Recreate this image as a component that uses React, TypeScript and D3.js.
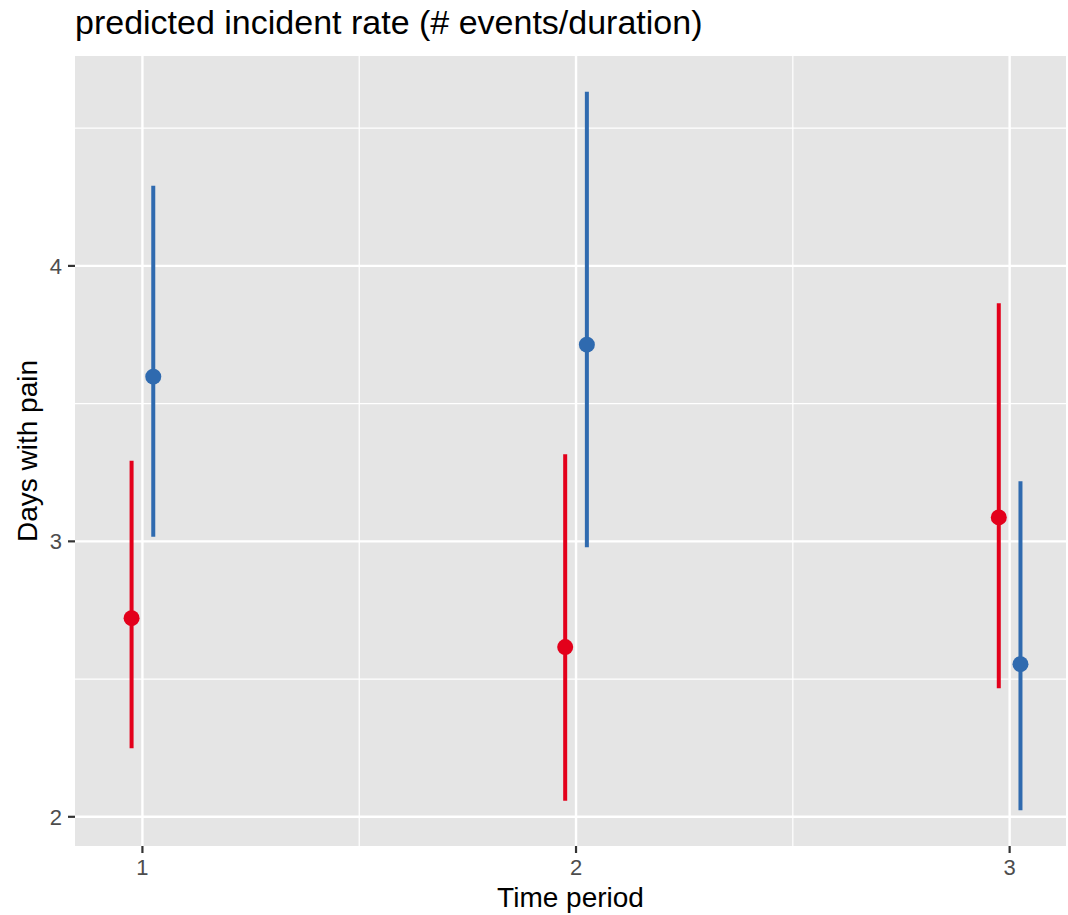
import * as d3 from "d3";

const periods = [1, 2, 3];
const groups = ["a", "b"];
const groupColors = ["#E3001B", "#2F6AAF"];
const redEst = [2.721, 2.616, 3.087];
const redLow = [2.249, 2.058, 2.467];
const redHigh = [3.293, 3.316, 3.864];
const blueEst = [3.598, 3.714, 2.554];
const blueLow = [3.017, 2.979, 2.024];
const blueHigh = [4.291, 4.632, 3.218];
const yTicks = [2, 3, 4];
const yMinor = [2.5, 3.5, 4.5];
const xMinor = [1.5, 2.5];

const W = 1068;
const H = 915;
const panel = { left: 75, right: 1066, top: 56, bottom: 846 };
const DODGE = 0.025;
const FONT = "'Liberation Sans', Arial, Helvetica, sans-serif";

const rows = [
  ...periods.map((p, i) => ({ g: 0, period: p, est: redEst[i], lo: redLow[i], hi: redHigh[i] })),
  ...periods.map((p, i) => ({ g: 1, period: p, est: blueEst[i], lo: blueLow[i], hi: blueHigh[i] })),
];

export default function App() {
  const x = d3.scaleLinear().domain([0.8445, 3.13]).range([panel.left, panel.right]);
  const y = d3.scaleLinear().domain([1.894, 4.762]).range([panel.bottom, panel.top]);
  const off = (g: number) => (g === 0 ? -DODGE : DODGE);

  return (
    <svg
      width={W}
      height={H}
      style={{ display: "block", position: "absolute", left: 0, top: 0 }}
      fontFamily={FONT}
    >
      <rect x={0} y={0} width={W} height={H} fill="#fff" />
      <text x={75} y={34} fontSize={34} fill="#000">
        predicted incident rate (# events/duration)
      </text>

      <rect
        x={panel.left}
        y={panel.top}
        width={panel.right - panel.left}
        height={panel.bottom - panel.top}
        fill="#E5E5E5"
      />
      {yMinor.map((v) => (
        <line key={"ym" + v} x1={panel.left} x2={panel.right} y1={y(v)} y2={y(v)} stroke="#fff" strokeWidth={1.2} />
      ))}
      {xMinor.map((v) => (
        <line key={"xm" + v} y1={panel.top} y2={panel.bottom} x1={x(v)} x2={x(v)} stroke="#fff" strokeWidth={1.2} />
      ))}
      {yTicks.map((v) => (
        <line key={"y" + v} x1={panel.left} x2={panel.right} y1={y(v)} y2={y(v)} stroke="#fff" strokeWidth={2.4} />
      ))}
      {periods.map((v) => (
        <line key={"x" + v} y1={panel.top} y2={panel.bottom} x1={x(v)} x2={x(v)} stroke="#fff" strokeWidth={2.4} />
      ))}

      {rows.map((r, i) => (
        <g key={i}>
          <line
            x1={x(r.period + off(r.g))}
            x2={x(r.period + off(r.g))}
            y1={y(r.lo)}
            y2={y(r.hi)}
            stroke={groupColors[r.g]}
            strokeWidth={4}
          />
          <circle cx={x(r.period + off(r.g))} cy={y(r.est)} r={8} fill={groupColors[r.g]} />
        </g>
      ))}

      {yTicks.map((v) => (
        <g key={"yt" + v}>
          <line x1={68} x2={panel.left} y1={y(v)} y2={y(v)} stroke="#333" strokeWidth={2.2} />
          <text x={62} y={y(v)} dy="0.36em" textAnchor="end" fontSize={22} fill="#4D4D4D">
            {v}
          </text>
        </g>
      ))}
      {periods.map((v) => (
        <g key={"xt" + v}>
          <line x1={x(v)} x2={x(v)} y1={panel.bottom} y2={panel.bottom + 7} stroke="#333" strokeWidth={2.2} />
          <text x={x(v)} y={875} textAnchor="middle" fontSize={22} fill="#4D4D4D">
            {v}
          </text>
        </g>
      ))}

      <text x={(panel.left + panel.right) / 2} y={907} textAnchor="middle" fontSize={28} fill="#000">
        Time period
      </text>
      <text
        transform={`translate(37, ${(panel.top + panel.bottom) / 2}) rotate(-90)`}
        textAnchor="middle"
        fontSize={28}
        fill="#000"
      >
        Days with pain
      </text>
    </svg>
  );
}
